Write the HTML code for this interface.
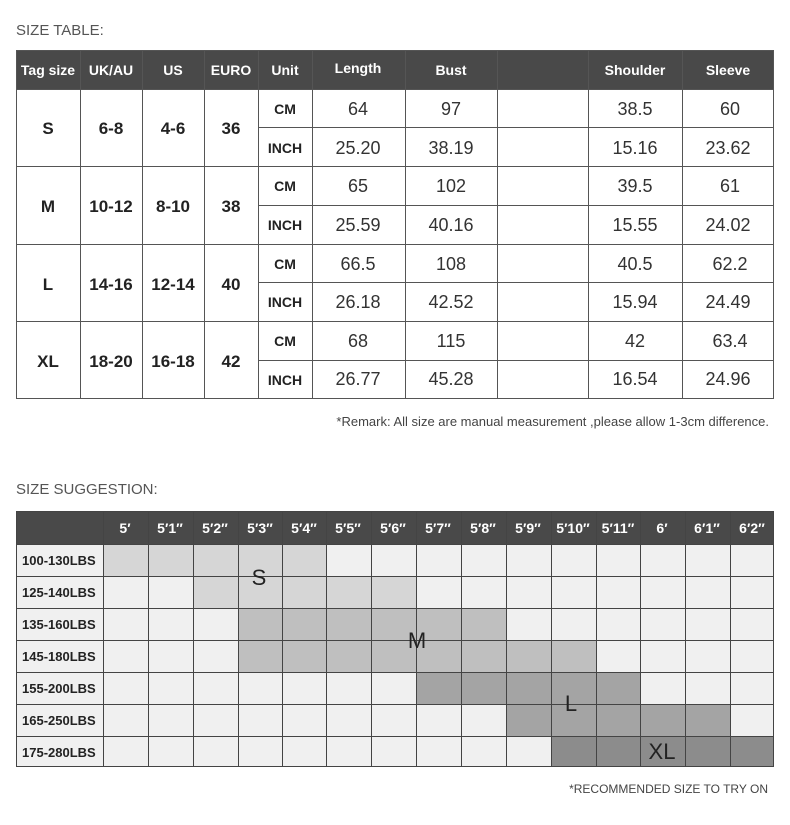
<!DOCTYPE html>
<html><head><meta charset="utf-8"><style>
html,body{margin:0;padding:0;background:#fff;}
svg{display:block;font-family:"Liberation Sans",sans-serif;}
</style></head><body>
<svg width="790" height="825" viewBox="0 0 790 825" xmlns="http://www.w3.org/2000/svg">
<rect width="790" height="825" fill="#fff"/>
<text x="16" y="35" font-size="15" fill="#555">SIZE TABLE:</text>
<!-- top header -->
<rect x="16" y="50" width="758" height="39" fill="#494949"/>
<g font-size="14" font-weight="bold" fill="#fff" text-anchor="middle">
<text x="48" y="75">Tag size</text>
<text x="111" y="75">UK/AU</text>
<text x="173" y="75">US</text>
<text x="231" y="75">EURO</text>
<text x="285" y="75">Unit</text>
<text x="358" y="73">Length</text>
<text x="451" y="75">Bust</text>
<text x="635" y="75">Shoulder</text>
<text x="728" y="75">Sleeve</text>
</g>
<g stroke="#555" stroke-width="1" fill="none">
<rect x="16.5" y="50.5" width="757" height="348"/>
<line x1="80.5" y1="50" x2="80.5" y2="399"/>
<line x1="142.5" y1="50" x2="142.5" y2="399"/>
<line x1="204.5" y1="50" x2="204.5" y2="399"/>
<line x1="258.5" y1="50" x2="258.5" y2="399"/>
<line x1="312.5" y1="50" x2="312.5" y2="399"/>
<line x1="405.5" y1="50" x2="405.5" y2="399"/>
<line x1="497.5" y1="50" x2="497.5" y2="399"/>
<line x1="588.5" y1="50" x2="588.5" y2="399"/>
<line x1="682.5" y1="50" x2="682.5" y2="399"/>
<line x1="16" y1="89.5" x2="774" y2="89.5"/>
<line x1="258" y1="127.5" x2="774" y2="127.5"/>
<line x1="16" y1="166.5" x2="774" y2="166.5"/>
<line x1="258" y1="205.5" x2="774" y2="205.5"/>
<line x1="16" y1="244.5" x2="774" y2="244.5"/>
<line x1="258" y1="282.5" x2="774" y2="282.5"/>
<line x1="16" y1="321.5" x2="774" y2="321.5"/>
<line x1="258" y1="360.5" x2="774" y2="360.5"/>
</g>
<g font-size="17" font-weight="bold" fill="#222" text-anchor="middle">
<text x="48" y="134">S</text><text x="111" y="134">6-8</text><text x="173" y="134">4-6</text><text x="231" y="134">36</text>
<text x="48" y="212">M</text><text x="111" y="212">10-12</text><text x="173" y="212">8-10</text><text x="231" y="212">38</text>
<text x="48" y="290">L</text><text x="111" y="290">14-16</text><text x="173" y="290">12-14</text><text x="231" y="290">40</text>
<text x="48" y="367">XL</text><text x="111" y="367">18-20</text><text x="173" y="367">16-18</text><text x="231" y="367">42</text>
</g>
<g font-size="14" font-weight="bold" fill="#222" text-anchor="middle">
<text x="285" y="114">CM</text><text x="285" y="153">INCH</text>
<text x="285" y="191">CM</text><text x="285" y="230">INCH</text>
<text x="285" y="269">CM</text><text x="285" y="307">INCH</text>
<text x="285" y="346">CM</text><text x="285" y="385">INCH</text>
</g>
<g font-size="18" fill="#333" text-anchor="middle">
<text x="358" y="115">64</text><text x="451" y="115">97</text><text x="635" y="115">38.5</text><text x="730" y="115">60</text>
<text x="358" y="154">25.20</text><text x="451" y="154">38.19</text><text x="635" y="154">15.16</text><text x="728" y="154">23.62</text>
<text x="358" y="192">65</text><text x="451" y="192">102</text><text x="635" y="192">39.5</text><text x="730" y="192">61</text>
<text x="358" y="231">25.59</text><text x="451" y="231">40.16</text><text x="635" y="231">15.55</text><text x="728" y="231">24.02</text>
<text x="358" y="270">66.5</text><text x="451" y="270">108</text><text x="635" y="270">40.5</text><text x="730" y="270">62.2</text>
<text x="358" y="308">26.18</text><text x="451" y="308">42.52</text><text x="635" y="308">15.94</text><text x="728" y="308">24.49</text>
<text x="358" y="347">68</text><text x="451" y="347">115</text><text x="635" y="347">42</text><text x="730" y="347">63.4</text>
<text x="358" y="385">26.77</text><text x="451" y="385">45.28</text><text x="635" y="385">16.54</text><text x="728" y="385">24.96</text>
</g>
<text x="769" y="426" font-size="13" fill="#444" text-anchor="end">*Remark: All size are manual measurement ,please allow 1-3cm difference.</text>

<text x="16" y="494" font-size="15" fill="#555">SIZE SUGGESTION:</text>
<!-- bottom table -->
<rect x="16" y="511" width="758" height="33" fill="#494949"/>
<rect x="16" y="544" width="758" height="223" fill="#f0f0f0"/>
<g>
<!-- row0 light cols 0-4 -->
<rect x="103" y="544" width="223" height="32" fill="#d6d6d6"/>
<rect x="193" y="576" width="223" height="32" fill="#d6d6d6"/>
<rect x="238" y="608" width="268" height="32" fill="#bfbfbf"/>
<rect x="238" y="640" width="358" height="32" fill="#bfbfbf"/>
<rect x="416" y="672" width="224" height="32" fill="#a4a4a4"/>
<rect x="506" y="704" width="224" height="32" fill="#a4a4a4"/>
<rect x="551" y="736" width="223" height="31" fill="#8c8c8c"/>
</g>
<g stroke="#444" stroke-width="1" fill="none">
<rect x="16.5" y="511.5" width="757" height="255"/>
<line x1="103.5" y1="511" x2="103.5" y2="767"/>
<line x1="148.5" y1="511" x2="148.5" y2="767"/>
<line x1="193.5" y1="511" x2="193.5" y2="767"/>
<line x1="238.5" y1="511" x2="238.5" y2="767"/>
<line x1="282.5" y1="511" x2="282.5" y2="767"/>
<line x1="326.5" y1="511" x2="326.5" y2="767"/>
<line x1="371.5" y1="511" x2="371.5" y2="767"/>
<line x1="416.5" y1="511" x2="416.5" y2="767"/>
<line x1="461.5" y1="511" x2="461.5" y2="767"/>
<line x1="506.5" y1="511" x2="506.5" y2="767"/>
<line x1="551.5" y1="511" x2="551.5" y2="767"/>
<line x1="596.5" y1="511" x2="596.5" y2="767"/>
<line x1="640.5" y1="511" x2="640.5" y2="767"/>
<line x1="685.5" y1="511" x2="685.5" y2="767"/>
<line x1="730.5" y1="511" x2="730.5" y2="767"/>
<line x1="16" y1="544.5" x2="774" y2="544.5"/>
<line x1="16" y1="576.5" x2="774" y2="576.5"/>
<line x1="16" y1="608.5" x2="774" y2="608.5"/>
<line x1="16" y1="640.5" x2="774" y2="640.5"/>
<line x1="16" y1="672.5" x2="774" y2="672.5"/>
<line x1="16" y1="704.5" x2="774" y2="704.5"/>
<line x1="16" y1="736.5" x2="774" y2="736.5"/>
</g>
<g font-size="14" font-weight="bold" fill="#fff" text-anchor="middle">
<text x="125" y="533">5′</text><text x="170" y="533">5′1″</text><text x="215" y="533">5′2″</text>
<text x="260" y="533">5′3″</text><text x="304" y="533">5′4″</text><text x="348" y="533">5′5″</text>
<text x="393" y="533">5′6″</text><text x="438" y="533">5′7″</text><text x="483" y="533">5′8″</text>
<text x="528" y="533">5′9″</text><text x="573" y="533">5′10″</text><text x="618" y="533">5′11″</text>
<text x="662" y="533">6′</text><text x="707" y="533">6′1″</text><text x="752" y="533">6′2″</text>
</g>
<g font-size="13" font-weight="bold" fill="#222">
<text x="22" y="565">100-130LBS</text>
<text x="22" y="597">125-140LBS</text>
<text x="22" y="629">135-160LBS</text>
<text x="22" y="661">145-180LBS</text>
<text x="22" y="693">155-200LBS</text>
<text x="22" y="725">165-250LBS</text>
<text x="22" y="757">175-280LBS</text>
</g>
<g font-size="22" fill="#222" text-anchor="middle">
<text x="259" y="585">S</text>
<text x="417" y="648">M</text>
<text x="571" y="711">L</text>
<text x="662" y="759">XL</text>
</g>
<text x="768" y="793" font-size="12" fill="#444" text-anchor="end">*RECOMMENDED SIZE TO TRY ON</text>
</svg>
</body></html>
